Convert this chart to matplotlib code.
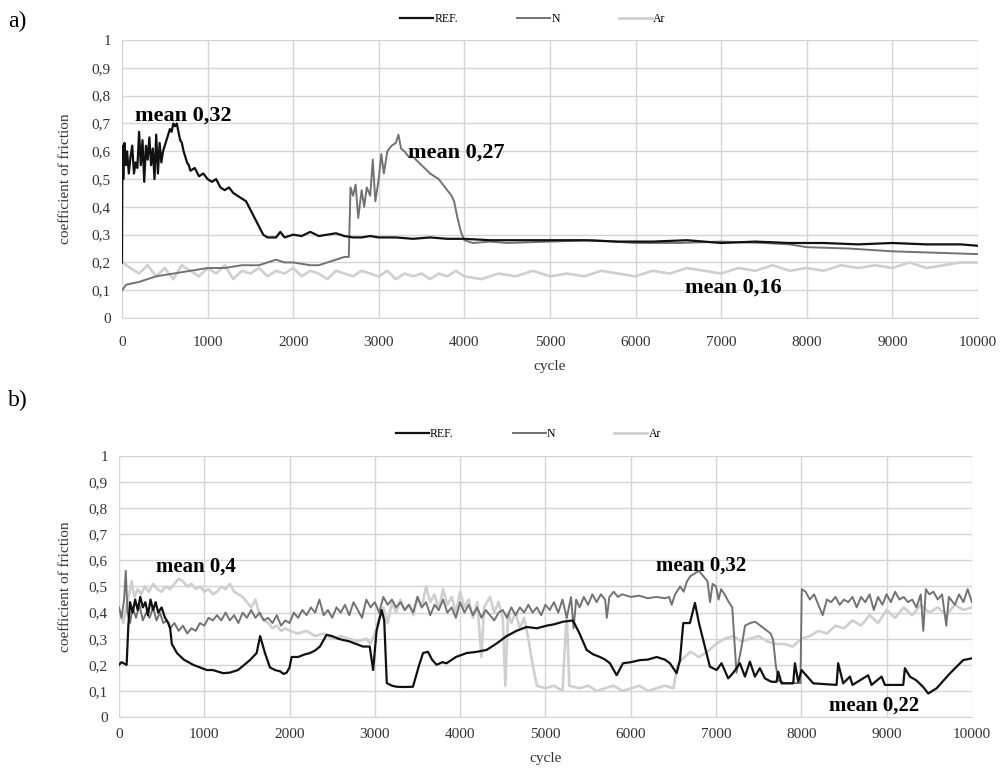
import numpy as np
import matplotlib.pyplot as plt

plt.rcParams['font.family'] = ['Liberation Serif', 'DejaVu Serif']

# ---- panel a) ----
ref_a_x = [0, 5, 15, 30, 45, 60, 80, 100, 120, 140, 160, 180, 200, 220, 240, 260, 280, 300, 320, 340,
           360, 380, 400, 420, 440, 460, 480, 500, 520, 540, 560, 580, 600, 620, 640, 660, 680, 700, 720,
           740, 760, 780, 800, 850, 900, 950, 1000, 1050, 1100, 1150, 1200, 1250, 1300, 1350, 1400, 1450,
           1500, 1550, 1600, 1650, 1700, 1750, 1800, 1850, 1900, 2000, 2100, 2200, 2300, 2400, 2500, 2600,
           2700, 2800, 2900, 3000, 3200, 3400, 3600, 3800, 4000, 4300, 4600, 5000, 5400, 5800, 6200, 6600,
           7000, 7400, 7800, 8200, 8600, 9000, 9400, 9800, 10000]
ref_a_y = [0.20, 0.62, 0.50, 0.63, 0.55, 0.60, 0.52, 0.58, 0.62, 0.52, 0.56, 0.54, 0.67, 0.55, 0.64, 0.49,
           0.62, 0.57, 0.65, 0.55, 0.61, 0.50, 0.66, 0.52, 0.63, 0.56, 0.60, 0.62, 0.64, 0.66, 0.68, 0.67,
           0.70, 0.69, 0.70, 0.67, 0.64, 0.63, 0.60, 0.58, 0.56, 0.55, 0.53, 0.54, 0.51, 0.52, 0.50, 0.49,
           0.50, 0.47, 0.46, 0.47, 0.45, 0.44, 0.43, 0.42, 0.39, 0.36, 0.33, 0.30, 0.29, 0.29, 0.29, 0.31,
           0.29, 0.30, 0.295, 0.31, 0.295, 0.30, 0.305, 0.295, 0.29, 0.29, 0.295, 0.29, 0.29, 0.285, 0.29,
           0.285, 0.285, 0.28, 0.28, 0.28, 0.28, 0.275, 0.275, 0.28, 0.27, 0.275, 0.27, 0.27, 0.265, 0.27,
           0.265, 0.265, 0.26]

n_a_x = [0, 50, 200, 400, 600, 800, 1000, 1200, 1400, 1600, 1700, 1800, 1900, 2000, 2100, 2200, 2300,
         2400, 2500, 2600, 2650, 2670, 2700, 2730, 2760, 2800, 2830, 2860, 2900, 2930, 2960, 3000, 3030,
         3060, 3100, 3150, 3200, 3230, 3260, 3300, 3350, 3400, 3500, 3600, 3700, 3800, 3850, 3880, 3920,
         3960, 4000, 4100, 4300, 4500, 5000, 5500, 6000, 6500, 7000, 7500, 7800, 8000, 8500, 9000, 9500,
         10000]
n_a_y = [0.10, 0.12, 0.13, 0.15, 0.16, 0.17, 0.18, 0.18, 0.19, 0.19, 0.20, 0.21, 0.20, 0.20, 0.195, 0.19,
         0.19, 0.20, 0.21, 0.22, 0.22, 0.47, 0.44, 0.48, 0.36, 0.46, 0.40, 0.47, 0.44, 0.57, 0.42, 0.50,
         0.59, 0.52, 0.60, 0.62, 0.63, 0.66, 0.61, 0.60, 0.58, 0.58, 0.55, 0.52, 0.50, 0.46, 0.44, 0.42,
         0.36, 0.31, 0.28, 0.27, 0.275, 0.27, 0.275, 0.28, 0.27, 0.27, 0.275, 0.27, 0.265, 0.255, 0.25,
         0.24, 0.235, 0.23]

ar_a_x = [0, 100, 200, 300, 400, 500, 600, 700, 800, 900, 1000, 1100, 1200, 1300, 1400, 1500, 1600, 1700,
          1800, 1900, 2000, 2100, 2200, 2300, 2400, 2500, 2600, 2700, 2800, 2900, 3000, 3100, 3200, 3300,
          3400, 3500, 3600, 3700, 3800, 3900, 4000, 4200, 4400, 4600, 4800, 5000, 5200, 5400, 5600, 5800,
          6000, 6200, 6400, 6600, 6800, 7000, 7200, 7400, 7600, 7800, 8000, 8200, 8400, 8600, 8800, 9000,
          9200, 9400, 9600, 9800, 10000]
ar_a_y = [0.20, 0.18, 0.16, 0.19, 0.15, 0.18, 0.14, 0.19, 0.17, 0.15, 0.18, 0.16, 0.19, 0.14, 0.17, 0.16,
          0.18, 0.15, 0.17, 0.16, 0.18, 0.15, 0.17, 0.16, 0.14, 0.17, 0.16, 0.15, 0.17, 0.16, 0.15, 0.17,
          0.14, 0.16, 0.15, 0.16, 0.14, 0.16, 0.15, 0.17, 0.15, 0.14, 0.16, 0.15, 0.17, 0.15, 0.16, 0.15,
          0.17, 0.16, 0.15, 0.17, 0.16, 0.18, 0.17, 0.16, 0.18, 0.17, 0.19, 0.17, 0.18, 0.17, 0.19, 0.18,
          0.19, 0.18, 0.20, 0.18, 0.19, 0.20, 0.20]

# ---- panel b) ----
ref_b_x = [0, 30, 90, 110, 130, 160, 190, 220, 250, 280, 310, 340, 370, 400, 430, 460, 500, 540, 580, 600,
           620, 680, 760, 870, 950, 1030, 1100, 1220, 1300, 1395, 1470, 1535, 1614, 1655, 1712, 1770, 1830,
           1890, 1930, 1966, 2000, 2024, 2100, 2180, 2240, 2300, 2356, 2434, 2500, 2570, 2627, 2700, 2780,
           2860, 2940, 2980, 3020, 3080, 3110, 3140, 3200, 3255, 3350, 3447, 3520, 3565, 3623, 3670, 3724,
           3790, 3841, 3950, 4076, 4200, 4310, 4420, 4545, 4660, 4780, 4900, 5014, 5100, 5205, 5322, 5400,
           5483, 5560, 5639, 5700, 5756, 5835, 5909, 6000, 6108, 6200, 6304, 6400, 6459, 6538, 6577, 6616,
           6694, 6753, 6800, 6850, 6928, 7007, 7065, 7143, 7198, 7280, 7339, 7397, 7456, 7514, 7573, 7650,
           7710, 7729, 7768, 7905, 7925, 7964, 8003, 8140, 8413, 8432, 8491, 8570, 8600, 8784, 8823, 8941,
           8980, 9195, 9214, 9273, 9350, 9429, 9488, 9586, 9742, 9898, 10000]
ref_b_y = [0.20, 0.21, 0.20, 0.35, 0.44, 0.40, 0.45, 0.41, 0.46, 0.42, 0.44, 0.39, 0.45, 0.41, 0.44, 0.40,
           0.42, 0.38, 0.36, 0.34, 0.28, 0.245, 0.22, 0.20, 0.19, 0.18, 0.18, 0.168, 0.17, 0.18, 0.20, 0.218,
           0.245, 0.31, 0.245, 0.19, 0.18, 0.175, 0.165, 0.17, 0.19, 0.23, 0.23, 0.24, 0.245, 0.255, 0.27,
           0.315, 0.31, 0.30, 0.295, 0.29, 0.28, 0.27, 0.27, 0.18, 0.33, 0.41, 0.37, 0.13, 0.12, 0.116, 0.115,
           0.116, 0.20, 0.245, 0.25, 0.22, 0.20, 0.21, 0.206, 0.23, 0.245, 0.25, 0.257, 0.28, 0.31, 0.33,
           0.345, 0.34, 0.35, 0.355, 0.365, 0.37, 0.32, 0.257, 0.24, 0.23, 0.22, 0.206, 0.16, 0.206, 0.21,
           0.218, 0.22, 0.23, 0.22, 0.206, 0.168, 0.218, 0.36, 0.36, 0.437, 0.36, 0.295, 0.193, 0.18, 0.206,
           0.148, 0.168, 0.206, 0.155, 0.212, 0.155, 0.187, 0.148, 0.135, 0.135, 0.174, 0.129, 0.129, 0.206,
           0.135, 0.18, 0.129, 0.123, 0.206, 0.129, 0.155, 0.123, 0.16, 0.123, 0.155, 0.123, 0.123, 0.187,
           0.155, 0.14, 0.115, 0.09, 0.11, 0.167, 0.218, 0.225]

n_b_x = [0, 30, 60, 80, 100, 130, 160, 200, 240, 280, 320, 360, 400, 440, 480, 520, 560, 600, 650, 700,
         750, 800, 850, 900, 950, 1000, 1050, 1100, 1150, 1200, 1250, 1300, 1350, 1400, 1450, 1500, 1550,
         1600, 1650, 1700, 1750, 1800, 1850, 1900, 1950, 2000, 2050, 2100, 2150, 2200, 2250, 2300, 2350,
         2400, 2450, 2500, 2550, 2600, 2650, 2700, 2750, 2800, 2850, 2900, 2950, 3000, 3050, 3100, 3150,
         3200, 3250, 3300, 3350, 3400, 3450, 3500, 3550, 3600, 3650, 3700, 3750, 3800, 3850, 3900, 3950,
         4000, 4050, 4100, 4150, 4200, 4250, 4300, 4350, 4400, 4450, 4500, 4550, 4600, 4650, 4700, 4750,
         4800, 4850, 4900, 4950, 5000, 5050, 5100, 5150, 5200, 5250, 5300, 5330, 5360, 5400, 5450, 5500,
         5550, 5600, 5650, 5700, 5720, 5750, 5800, 5850, 5900, 6000, 6100, 6200, 6300, 6400, 6450, 6480,
         6520, 6580, 6620, 6660, 6700, 6750, 6800, 6850, 6900, 6930, 6960, 7000, 7030, 7060, 7100, 7150,
         7190, 7220, 7240, 7270, 7300, 7340, 7400, 7460, 7520, 7590, 7640, 7670, 7700, 7730, 7800, 7900,
         7990, 8005, 8050, 8100, 8150, 8200, 8250, 8300, 8350, 8400, 8450, 8500, 8550, 8600, 8650, 8700,
         8750, 8800, 8850, 8900, 8950, 9000, 9050, 9100, 9150, 9200, 9250, 9300, 9350, 9400, 9430, 9460,
         9500, 9550, 9600, 9650, 9700, 9730, 9800, 9850, 9900, 9950, 10000]
n_b_y = [0.42, 0.38, 0.45, 0.56, 0.40, 0.36, 0.42, 0.38, 0.43, 0.37, 0.40, 0.38, 0.42, 0.37, 0.40, 0.36,
         0.37, 0.34, 0.36, 0.33, 0.35, 0.32, 0.34, 0.33, 0.36, 0.35, 0.38, 0.37, 0.39, 0.37, 0.40, 0.37,
         0.39, 0.36, 0.40, 0.38, 0.41, 0.38, 0.40, 0.37, 0.38, 0.36, 0.39, 0.35, 0.37, 0.36, 0.40, 0.38,
         0.41, 0.39, 0.42, 0.40, 0.45, 0.39, 0.41, 0.38, 0.42, 0.40, 0.43, 0.39, 0.44, 0.41, 0.38, 0.45,
         0.42, 0.44, 0.40, 0.46, 0.43, 0.45, 0.42, 0.44, 0.41, 0.43, 0.40, 0.46, 0.42, 0.44, 0.39, 0.43,
         0.41, 0.45, 0.40, 0.42, 0.38, 0.44, 0.40, 0.43, 0.39, 0.42, 0.38, 0.41, 0.39, 0.37, 0.40, 0.41,
         0.38, 0.42, 0.39, 0.42, 0.40, 0.43, 0.40, 0.42, 0.39, 0.43, 0.41, 0.44, 0.40, 0.45, 0.38, 0.46,
         0.34, 0.45, 0.42, 0.46, 0.43, 0.47, 0.44, 0.47, 0.45, 0.38, 0.46, 0.48, 0.46, 0.47, 0.46, 0.465,
         0.455, 0.46, 0.455, 0.46, 0.43, 0.47, 0.50, 0.48, 0.52, 0.54, 0.55, 0.56, 0.54, 0.52, 0.44, 0.51,
         0.50, 0.45, 0.49, 0.47, 0.44, 0.42, 0.27, 0.17, 0.22, 0.27, 0.35, 0.36, 0.365, 0.35, 0.333, 0.32,
         0.295, 0.20, 0.14, 0.13, 0.13, 0.13, 0.49, 0.48, 0.45, 0.47, 0.43, 0.39, 0.45, 0.44, 0.46, 0.43,
         0.45, 0.44, 0.46, 0.42, 0.46, 0.44, 0.47, 0.41, 0.46, 0.43, 0.47, 0.44, 0.48, 0.45, 0.46, 0.44,
         0.45, 0.42, 0.47, 0.33, 0.49, 0.47, 0.48, 0.45, 0.47, 0.35, 0.46, 0.43, 0.47, 0.44, 0.49, 0.44]

ar_b_x = [0, 50, 100, 150, 180, 220, 260, 300, 350, 400, 450, 500, 550, 600, 650, 700, 750, 800, 850, 900,
          950, 1000, 1050, 1100, 1150, 1200, 1250, 1300, 1350, 1400, 1450, 1500, 1550, 1600, 1650, 1700,
          1750, 1800, 1850, 1900, 1950, 2000, 2100, 2200, 2300, 2400, 2500, 2600, 2700, 2800, 2900, 2950,
          3000, 3050, 3100, 3150, 3200, 3250, 3300, 3350, 3400, 3450, 3500, 3550, 3600, 3650, 3700, 3750,
          3800, 3850, 3900, 3950, 4000, 4050, 4100, 4150, 4200, 4250, 4280, 4350, 4400, 4450, 4500, 4530,
          4560, 4600, 4650, 4700, 4750, 4800, 4850, 4900, 5000, 5100, 5200, 5250, 5280, 5400, 5500, 5600,
          5700, 5800, 5900, 6000, 6100, 6200, 6300, 6400, 6500, 6550, 6600, 6700, 6800, 6900, 7000, 7100,
          7200, 7300, 7400, 7500, 7600, 7700, 7800, 7900, 8000, 8100, 8200, 8300, 8400, 8500, 8600, 8700,
          8800, 8900, 9000, 9100, 9200, 9300, 9400, 9500, 9600, 9700, 9800, 9900, 10000]
ar_b_y = [0.41, 0.36, 0.44, 0.52, 0.46, 0.49, 0.47, 0.50, 0.48, 0.51, 0.49, 0.48, 0.50, 0.49, 0.51, 0.53,
          0.52, 0.50, 0.51, 0.49, 0.50, 0.48, 0.49, 0.47, 0.48, 0.50, 0.49, 0.51, 0.48, 0.47, 0.46, 0.44,
          0.42, 0.45, 0.39, 0.37, 0.36, 0.34, 0.35, 0.33, 0.34, 0.33, 0.32, 0.33, 0.31, 0.32, 0.30, 0.31,
          0.30, 0.29, 0.30, 0.28, 0.32, 0.38, 0.42, 0.36, 0.44, 0.40, 0.45, 0.41, 0.43, 0.39, 0.46, 0.42,
          0.50, 0.44, 0.47, 0.41, 0.49, 0.43, 0.46, 0.40, 0.48, 0.42, 0.45, 0.38, 0.44, 0.23, 0.42, 0.46,
          0.40, 0.44, 0.38, 0.12, 0.40, 0.36, 0.40, 0.34, 0.38, 0.30, 0.20, 0.12, 0.11, 0.12, 0.10, 0.40,
          0.12, 0.11, 0.12, 0.10, 0.11, 0.12, 0.10, 0.11, 0.12, 0.10, 0.11, 0.12, 0.11, 0.20, 0.22, 0.25,
          0.23, 0.25, 0.28, 0.30, 0.31, 0.29, 0.30, 0.31, 0.29, 0.28, 0.28, 0.27, 0.30, 0.31, 0.33, 0.32,
          0.35, 0.34, 0.37, 0.35, 0.39, 0.36, 0.41, 0.38, 0.42, 0.39, 0.43, 0.40, 0.42, 0.39, 0.43, 0.41,
          0.42]

LABELS = ['REF.', 'N', 'Ar']
COLORS = ['#111111', '#727272', '#cfcfcf']
WIDTHS = [1.6, 1.4, 1.9]
YTICKS = [0, 0.1, 0.2, 0.3, 0.4, 0.5, 0.6, 0.7, 0.8, 0.9, 1]
YTICK_LABELS = ['0', '0,1', '0,2', '0,3', '0,4', '0,5', '0,6', '0,7', '0,8', '0,9', '1']
XTICKS = list(range(0, 10001, 1000))

fig = plt.figure(figsize=(10.03, 7.71), dpi=100)
ax_a = fig.add_axes([0.1216, 0.5875, 0.8534, 0.3605])
ax_b = fig.add_axes([0.1186, 0.0700, 0.8504, 0.3386])


def panel(ax, series, notes, note_size, legend_y, xpad, xlabelpad, ylabelpad):
    # Ar first so REF sits on top; legend keeps REF, N, Ar order
    handles = [None] * 3
    for i in (2, 1, 0):
        x, y = series[i]
        handles[i], = ax.plot(x, y, color=COLORS[i], lw=WIDTHS[i], label=LABELS[i], zorder=5 - i)
    ax.set_xlim(0, 10000)
    ax.set_ylim(0, 1)
    ax.set_xticks(XTICKS)
    ax.set_yticks(YTICKS)
    ax.set_yticklabels(YTICK_LABELS)
    ax.tick_params(length=0, labelsize=11, colors='#333333', pad=8)
    ax.tick_params(axis='x', pad=xpad)
    ax.grid(True, color='#d4d4d4', lw=1.0)
    ax.set_axisbelow(True)
    for side, sp in ax.spines.items():
        sp.set_color('#d4d4d4')
        sp.set_visible(side == 'bottom')
    ax.set_xlabel('cycle', fontsize=11, color='#333333', labelpad=xlabelpad)
    ax.set_ylabel('coefficient of friction', fontsize=11, color='#333333', labelpad=ylabelpad)
    for txt, xx, yy in notes:
        ax.text(xx, yy, txt, fontsize=note_size, fontweight='bold', ha='left', va='center', zorder=10)
    ax.legend(handles=handles, ncol=3, loc='center', bbox_to_anchor=(0.48, legend_y),
              frameon=False, fontsize=8.5, handlelength=2.8, handletextpad=0.1,
              columnspacing=5.0)


panel(ax_a, [(ref_a_x, ref_a_y), (n_a_x, n_a_y), (ar_a_x, ar_a_y)],
      [('mean 0,32', 150, 0.73), ('mean 0,27', 3340, 0.595), ('mean 0,16', 6580, 0.11)],
      16, 1.075, 13, 8, 14)
panel(ax_b, [(ref_b_x, ref_b_y), (n_b_x, n_b_y), (ar_b_x, ar_b_y)],
      [('mean 0,4', 440, 0.575), ('mean 0,32', 6300, 0.58), ('mean 0,22', 8330, 0.045)],
      15, 1.085, 8, 8, 12)

fig.text(0.008, 0.972, 'a)', fontsize=17, va='center')
fig.text(0.008, 0.48, 'b)', fontsize=17, va='center')

plt.savefig('out.png', dpi=100)
